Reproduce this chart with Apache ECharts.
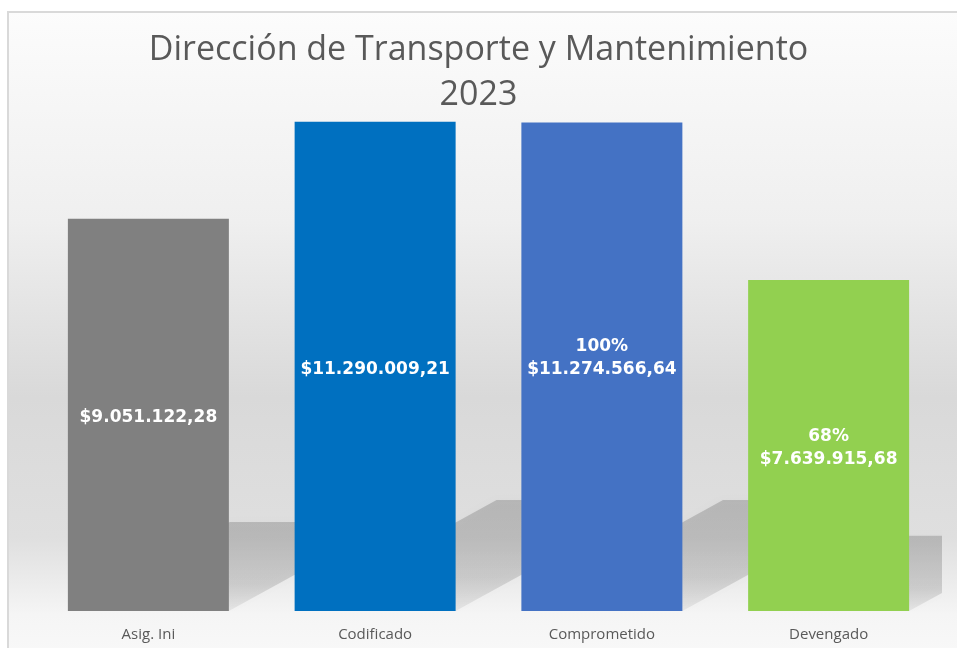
<!DOCTYPE html>
<html>
<head>
<meta charset="utf-8">
<title>Dirección de Transporte y Mantenimiento 2023</title>
<script src="https://cdn.jsdelivr.net/npm/echarts@6/dist/echarts.min.js"></script>
<style>
  html, body { margin: 0; padding: 0; background: #ffffff; }
  #chart { width: 957px; height: 648px; }
</style>
</head>
<body>
<div id="chart"></div>
<script>
// datos del gráfico
var categorias = ['Asig. Ini', 'Codificado', 'Comprometido', 'Devengado'];
var montos = [9051122.28, 11290009.21, 11274566.64, 7639915.68];
var porcentajes = ['', '', '100%', '68%'];
var colores = ['#808080', '#0070C0', '#4472C4', '#92D050'];

// formato 9.051.122,28
function formatoMonto(v) {
  var partes = v.toFixed(2).split('.');
  var entero = partes[0].replace(/\B(?=(\d{3})+(?!\d))/g, '.');
  return '$' + entero + ',' + partes[1];
}

var myChart = echarts.init(document.getElementById('chart'));

var option = {
  animation: false,
  graphic: [{
    type: 'rect',
    z: -10,
    shape: { x: 8, y: 12, width: 1000, height: 700 },
    style: {
      stroke: '#d9d9d9',
      lineWidth: 2,
      fill: new echarts.graphic.LinearGradient(0, 0, 0, 1, [
        { offset: 0, color: '#fcfcfc' },
        { offset: 0.3, color: '#efefef' },
        { offset: 0.55, color: '#d9d9d9' },
        { offset: 0.75, color: '#dfdfdf' },
        { offset: 0.86, color: '#f5f5f5' },
        { offset: 1, color: '#fdfdfd' }
      ])
    }
  }],
  title: {
    text: 'Dirección de Transporte y Mantenimiento\n2023',
    left: 'center',
    top: 23,
    textStyle: {
      fontFamily: 'Open Sans',
      fontWeight: 'normal',
      fontSize: 34,
      lineHeight: 45,
      color: '#595959'
    }
  },
  grid: { left: 35, right: 15, top: 91, bottom: 37 },
  xAxis: {
    type: 'category',
    data: categorias,
    axisLine: { show: false },
    axisTick: { show: false },
    axisLabel: {
      margin: 16,
      fontFamily: 'Open Sans',
      fontSize: 15,
      color: '#595959'
    }
  },
  yAxis: {
    type: 'value',
    min: 0,
    max: 12000000,
    show: false,
    splitLine: { show: false }
  },
  series: [
    {
      // sombra en el piso detrás de cada barra
      type: 'custom',
      clip: true,
      z: 1,
      silent: true,
      data: montos,
      renderItem: function(params, api) {
        var tope = api.coord([api.value(0), api.value(1)]);
        var base = api.coord([api.value(0), 0]);
        var ancho = api.size([1, 0])[0] * 0.71;
        var alto = base[1] - tope[1];
        var s = alto * 0.227;
        var dx = s / 0.55;
        var xL = base[0] - ancho / 2;
        var xR = base[0] + ancho / 2;
        var yB = base[1];
        return {
          type: 'polygon',
          shape: {
            points: [[xL, yB], [xR, yB], [xR + dx, yB - s], [xL + dx, yB - s]]
          },
          style: {
            fill: new echarts.graphic.LinearGradient(0, 0, 0, 1, [
              { offset: 0, color: 'rgba(0,0,0,0.17)' },
              { offset: 0.7, color: 'rgba(0,0,0,0.13)' },
              { offset: 1, color: 'rgba(0,0,0,0.06)' }
            ]),
            shadowBlur: 10,
            shadowColor: 'rgba(0,0,0,0.12)'
          }
        };
      }
    },
    {
      type: 'bar',
      z: 2,
      barWidth: '71%',
      data: montos.map(function(v, i) {
        var item = { value: v, itemStyle: { color: colores[i] } };
        if (porcentajes[i] === '100%') {
          item.label = { offset: [0, -9] };
        }
        return item;
      }),
      label: {
        show: true,
        position: 'inside',
        offset: [0, 3],
        color: '#ffffff',
        fontFamily: 'DejaVu Sans',
        fontWeight: 'bold',
        fontSize: 17,
        lineHeight: 23,
        formatter: function(p) {
          var pct = porcentajes[p.dataIndex];
          return (pct ? pct + '\n' : '') + formatoMonto(p.value);
        }
      }
    }
  ]
};

myChart.setOption(option);
</script>
</body>
</html>
